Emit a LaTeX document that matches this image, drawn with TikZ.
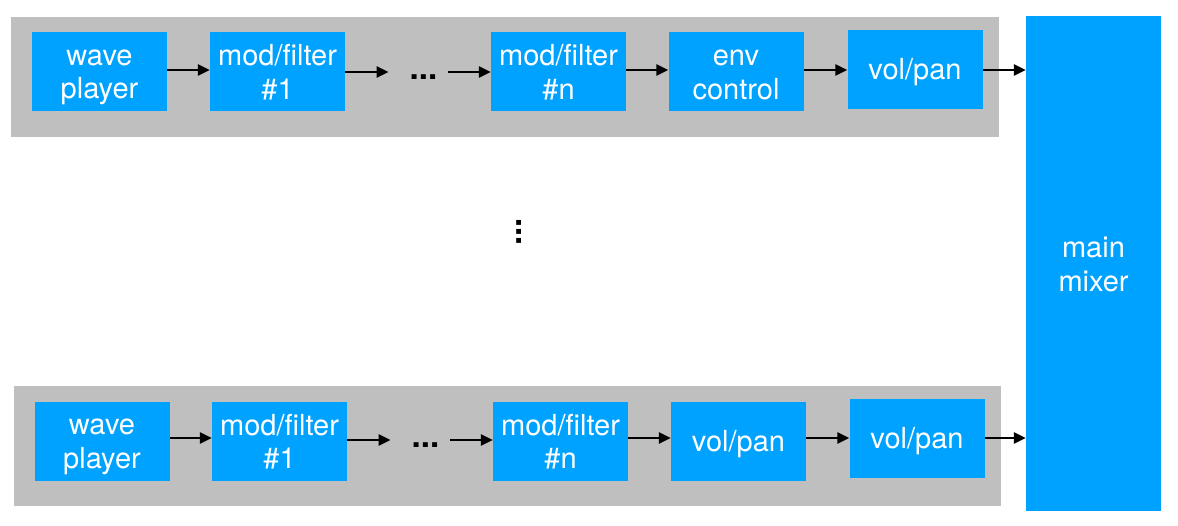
\documentclass[tikz,border=0pt]{standalone}
\usepackage{fontspec}
\setmainfont{TeX Gyre Heros}
\usetikzlibrary{arrows.meta}
\definecolor{blockblue}{RGB}{0,162,255}
\definecolor{lanegray}{RGB}{191,191,191}
\newcommand\ls{\rule[-5.3pt]{0pt}{32.3pt}}% line strut

\begin{document}
\begin{tikzpicture}
[x=1pt,y=-1pt,
 block/.style={fill=blockblue, text=white, align=center, inner sep=0pt,
   minimum width=135pt, minimum height=79pt, font=\fontsize{29}{33.5}\selectfont},
 lane/.style={fill=lanegray},
 dots/.style={font=\fontsize{33}{33}\selectfont\bfseries, inner sep=0pt},
 link/.style={line width=2.8pt, -{Triangle[length=12pt,width=11pt]}}
]
\useasboundingbox (0,0) rectangle (1178,525);

\fill[lane] (11,17) rectangle (999,137);
\fill[lane] (14,386) rectangle (1001,506);

% top lane
\node[block] (waveA) at (99.5,71.5) {\ls wave\\\ls player};
\node[block] (modA1) at (277.5,71.5) {\ls mod/filter\\\ls \#1};
\node[dots] (dotsA) at (423.5,77.5) {...};
\node[block] (modAn) at (558.5,71.5) {\ls mod/filter\\\ls \#n};
\node[block] (envA) at (736,71.5) {\ls env\\\ls control};
\node[block] (volA) at (915,69.5) {\ls vol/pan};

% main mixer
\node[block, minimum height=495pt] (mixer) at (1093.5,263.5) {\ls main\\\ls mixer};

% bottom lane
\node[block] (waveB) at (102,441) {\ls wave\\\ls player};
\node[block] (modB1) at (279.5,441) {\ls mod/filter\\\ls \#1};
\node[dots] (dotsB) at (425.5,445.5) {...};
\node[block] (modBn) at (560.5,441) {\ls mod/filter\\\ls \#n};
\node[block] (volB1) at (738.5,441) {\ls vol/pan};
\node[block] (volB2) at (917,438.5) {\ls vol/pan};

\node[dots, rotate=90] (dotsV) at (519,232) {...};

\draw[link] (waveA.east |- 0,70) -- (modA1.west |- 0,70);
\draw[link] (modA1.east |- 0,72) -- ([xshift=-21pt]dotsA.west |- 0,72);
\draw[link] ([xshift=10.5pt]dotsA.east |- 0,72) -- (modAn.west |- 0,72);
\draw[link] (modAn.east |- 0,70) -- (envA.west |- 0,70);
\draw[link] (envA.east |- 0,70) -- (volA.west |- 0,70);
\draw[link] (volA.east |- 0,70) -- (mixer.west |- 0,70);

\draw[link] (waveB.east |- 0,438) -- (modB1.west |- 0,438);
\draw[link] (modB1.east |- 0,440) -- ([xshift=-21pt]dotsB.west |- 0,440);
\draw[link] ([xshift=10.5pt]dotsB.east |- 0,440) -- (modBn.west |- 0,440);
\draw[link] (modBn.east |- 0,438) -- (volB1.west |- 0,438);
\draw[link] (volB1.east |- 0,438) -- (volB2.west |- 0,438);
\draw[link] (volB2.east |- 0,438) -- (mixer.west |- 0,438);

\end{tikzpicture}
\end{document}
